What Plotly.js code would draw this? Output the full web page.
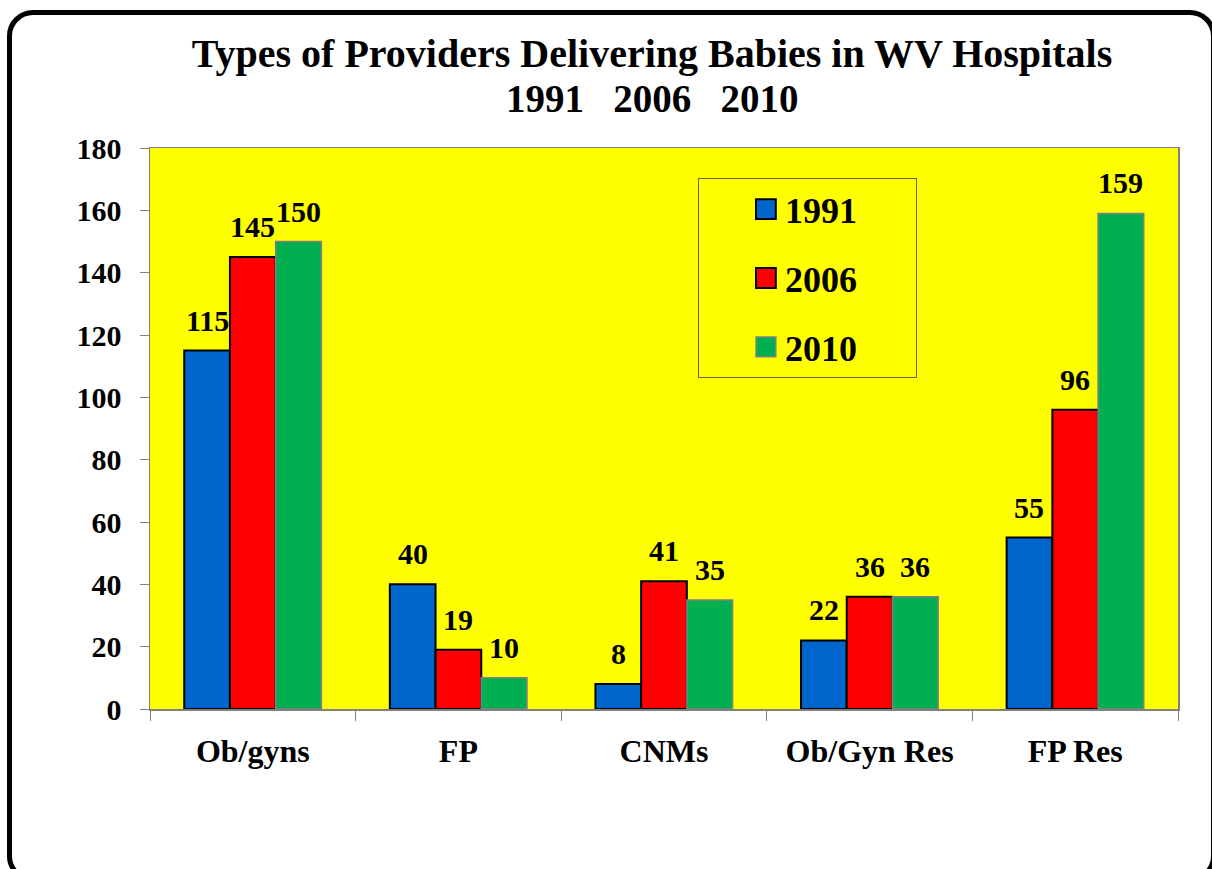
<!DOCTYPE html>
<html>
<head>
<meta charset="utf-8">
<script src="https://cdn.plot.ly/plotly-3.0.1.min.js"></script>
<style>
  html, body { margin: 0; padding: 0; background: #ffffff; overflow: hidden; }
  #wrap { position: relative; width: 1212px; height: 869px; }
  #chart { width: 1212px; height: 869px; }
  #frame { position: absolute; left: 7px; top: 10px; width: 1199px; height: 862px;
           border: 5px solid #000; border-radius: 26px; pointer-events: none; }
</style>
</head>
<body>
<div id="wrap">
  <div id="chart"></div>
  <div id="frame"></div>
</div>
<script>
const categories = ["Ob/gyns", "FP", "CNMs", "Ob/Gyn Res", "FP Res"];
const years = ["1991", "2006", "2010"];
const values1991 = [115, 40, 8, 22, 55];
const values2006 = [145, 19, 41, 36, 96];
const values2010 = [150, 10, 35, 36, 159];
const yTicks = [0, 20, 40, 60, 80, 100, 120, 140, 160, 180];
const titleLine1 = "Types of Providers Delivering Babies in WV Hospitals";
const titleLine2 = "1991   2006   2010";

const FONT = "Liberation Serif, Times New Roman, serif";
const seriesValues = [values1991, values2006, values2010];
const fills = ["#0066CC", "#FF0000", "#00B050"];
const edges = ["#000000", "#000000", "#808080"];
const edgeW = [2, 2, 1.5];

const W = 1212, H = 869;
const M = { l: 150, r: 34, t: 148, b: 160 };
const BARGAP = 0.333;
const plotW = W - M.l - M.r;
const plotH = H - M.t - M.b;
const catW = plotW / categories.length;
const barW = catW * (1 - BARGAP) / years.length;
const titleCx = 652;

const traces = years.map((yr, i) => ({
  type: "bar",
  name: yr + "\u00a0\u00a0\u00a0\u00a0\u00a0\u00a0",
  x: categories,
  y: seriesValues[i],
  marker: { color: fills[i], line: { color: edges[i], width: edgeW[i] } },
  legendgroup: "g" + i,
  hoverinfo: "skip"
}));

const annotations = [];
seriesValues.forEach((vals, i) => {
  vals.forEach((v, j) => {
    annotations.push({
      x: categories[j], y: v, xref: "x", yref: "y",
      text: "<b>" + v + "</b>", showarrow: false,
      xanchor: "center", yanchor: "bottom",
      xshift: (i - 1) * barW, yshift: 12,
      font: { family: FONT, size: 30, color: "#000" }
    });
  });
});
annotations.push({
  x: (titleCx - M.l) / plotW, y: (H - M.b - 98) / plotH, xref: "paper", yref: "paper",
  text: "<b>" + titleLine2 + "</b>", showarrow: false,
  xanchor: "center", yanchor: "middle",
  font: { family: FONT, size: 39, color: "#000" }
});

const layout = {
  width: W,
  height: H,
  paper_bgcolor: "#ffffff",
  plot_bgcolor: "#FFFF00",
  margin: M,
  font: { family: FONT, color: "#000" },
  title: {
    text: "<b>" + titleLine1 + "</b>",
    font: { family: FONT, size: 40, color: "#000" },
    x: titleCx / W, xanchor: "center",
    y: 1 - 53 / H, yanchor: "middle", yref: "container"
  },
  annotations: annotations,
  barmode: "group",
  bargap: BARGAP,
  bargroupgap: 0,
  showlegend: true,
  legend: {
    x: 0.533, xanchor: "left",
    y: 0.946, yanchor: "top",
    bgcolor: "#FFFF00",
    bordercolor: "#666633",
    borderwidth: 1,
    font: { family: FONT, size: 36, color: "#000", weight: "bold" },
    traceorder: "grouped",
    tracegroupgap: 19,
    itemwidth: 76
  },
  xaxis: {
    type: "category",
    showline: true, linecolor: "#808080", linewidth: 1.5, mirror: true,
    ticks: "outside", tickson: "boundaries", ticklen: 10, tickcolor: "#808080", tickwidth: 1,
    tickfont: { family: FONT, size: 32, color: "#000", weight: "bold" },
    ticklabelstandoff: 13,
    showgrid: false
  },
  yaxis: {
    range: [0, 180],
    tickvals: yTicks,
    ticktext: yTicks.map(String),
    showline: true, linecolor: "#808080", linewidth: 1.5, mirror: true,
    ticks: "outside", ticklen: 9, tickcolor: "#808080", tickwidth: 1,
    tickfont: { family: FONT, size: 30, color: "#000", weight: "bold" },
    ticklabelstandoff: 12,
    showgrid: false, zeroline: false
  }
};

function fixSwatches() {
  // enlarge legend swatches and place them just left of each legend label
  document.querySelectorAll(".legend .traces").forEach(tr => {
    const txt = tr.querySelector(".legendtext");
    const p = tr.querySelector(".legendpoints path");
    if (!txt || !p) return;
    p.removeAttribute("transform");
    const tb = txt.getBoundingClientRect();
    const r = p.getBoundingClientRect();
    const cx = r.left + r.width / 2;
    const target = tb.left - 19;
    p.setAttribute("vector-effect", "non-scaling-stroke");
    p.setAttribute("transform", "translate(" + (target - cx).toFixed(1) + ",0) scale(1.65)");
  });
}

Plotly.newPlot("chart", traces, layout, { staticPlot: true, displayModeBar: false }).then(() => {
  fixSwatches();
  setTimeout(fixSwatches, 50);
});
</script>
</body>
</html>
